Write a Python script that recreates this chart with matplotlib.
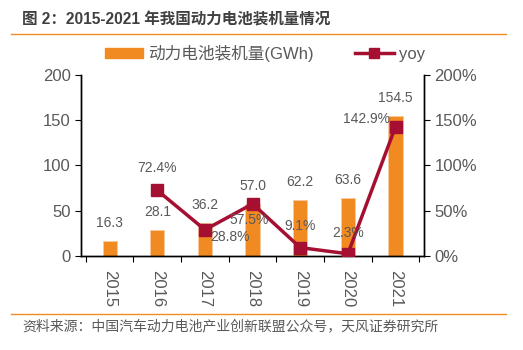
import matplotlib.pyplot as plt
import matplotlib.lines as mlines
import matplotlib.patches as mpatches
import numpy as np

plt.rcParams['font.family'] = ['Liberation Sans', 'Noto Sans CJK SC', 'DejaVu Sans']

# data
years = ['2015', '2016', '2017', '2018', '2019', '2020', '2021']
installed = [16.3, 28.1, 36.2, 57.0, 62.2, 63.6, 154.5]
yoy_years = ['2016', '2017', '2018', '2019', '2020', '2021']
yoy = [72.4, 28.8, 57.5, 9.1, 2.3, 142.9]

bar_color = '#F28A22'
line_color = '#A50F32'
text_color = '#595959'

fig = plt.figure(figsize=(5.23, 3.5), dpi=100)
ax = fig.add_axes([0.155, 0.269, 0.656, 0.517])
ax2 = ax.twinx()

x = np.arange(len(years))
ax.bar(x, installed, width=0.3, color=bar_color, edgecolor='#F8C9A0', linewidth=0.6, zorder=2)
for xi, v in zip(x, installed):
    ax.annotate(f'{v:.1f}', (xi, v), xytext=(0, 18), textcoords='offset pixels',
                ha='center', va='center', fontsize=10, color=text_color)

xl = [years.index(y) for y in yoy_years]
ax2.plot(xl, yoy, color=line_color, lw=2.5, marker='s', ms=8, zorder=3)
offsets = [(0, 22), (25, -7), (-3, -16), (0, 22), (0, 21), (-29, 8)]
for xi, v, off in zip(xl, yoy, offsets):
    ax2.annotate(f'{v:.1f}%', (xi, v), xytext=off, textcoords='offset pixels',
                 ha='center', va='center', fontsize=10, color=text_color, zorder=5)

ax.set_xlim(-0.6, 6.6)
ax.set_ylim(0, 200)
ax2.set_ylim(0, 200)
ax.set_yticks([0, 50, 100, 150, 200])
ax2.set_yticks([0, 50, 100, 150, 200])
ax2.set_yticklabels(['0%', '50%', '100%', '150%', '200%'])
ax.set_xticks(np.arange(-0.5, 7, 1), minor=False)
ax.set_xticklabels([])
ax.set_xticks(x, minor=True)
ax.set_xticklabels(years, minor=True, rotation=270)
ax.tick_params(axis='x', which='minor', length=0, pad=10, labelsize=12, labelcolor=text_color)
ax.tick_params(axis='x', which='major', length=4, direction='out')
ax.tick_params(axis='y', labelsize=12, labelcolor=text_color, length=4, direction='out')
ax2.tick_params(axis='y', labelsize=12, labelcolor=text_color, length=4, direction='out')

for a in (ax, ax2):
    a.spines['top'].set_visible(False)
    a.spines['left'].set_linewidth(1)
    a.spines['right'].set_linewidth(1)
    a.spines['bottom'].set_linewidth(1)

# legend
h1 = mpatches.Patch(color=bar_color, label='动力电池装机量(GWh)')
h2 = mlines.Line2D([], [], color=line_color, lw=2.5, marker='s', ms=7, label='yoy')
fig.legend(handles=[h1, h2], loc='center', bbox_to_anchor=(0.506, 0.848), ncol=2,
           frameon=False, fontsize=12, labelcolor=text_color, handlelength=2.3,
           handleheight=0.55, columnspacing=2.5, handletextpad=0.3)

# title, rules, source
fig.text(0.042, 0.943, '图 2：2015-2021 年我国动力电池装机量情况', fontsize=11.2,
         fontweight='bold', color='#404040', va='center')
fig.add_artist(mlines.Line2D([0.021, 0.968], [0.903, 0.903], color='#F28A22', lw=1))
fig.add_artist(mlines.Line2D([0.021, 0.968], [0.103, 0.103], color='#F28A22', lw=1))
fig.text(0.042, 0.068, '资料来源：中国汽车动力电池产业创新联盟公众号，天风证券研究所',
         fontsize=10, color=text_color, va='center')

fig.savefig('out.png', dpi=100)
